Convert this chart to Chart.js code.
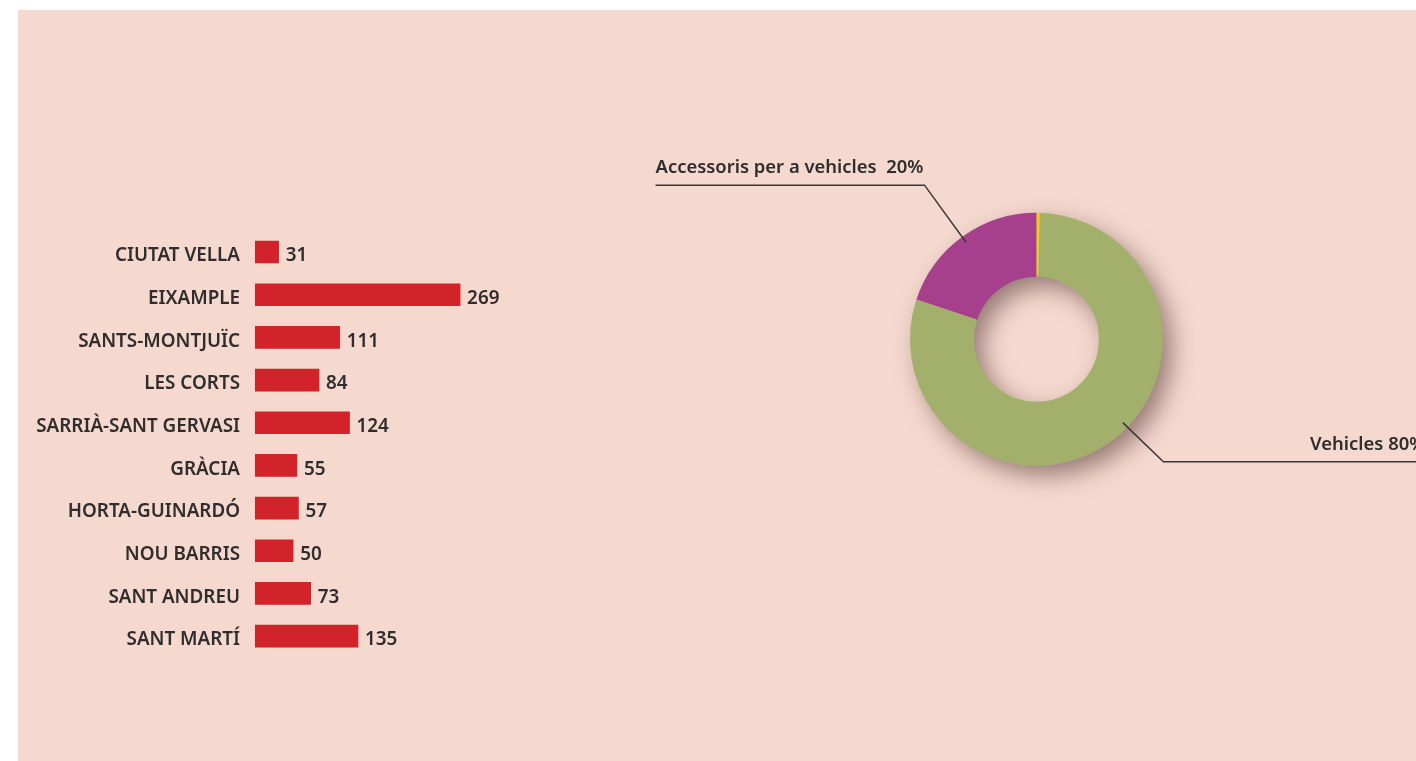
<!DOCTYPE html>
<html>
<head>
<meta charset="utf-8">
<script src="https://cdn.jsdelivr.net/npm/chart.js@4.4.1/dist/chart.umd.min.js"></script>
<style>
  body { margin: 0; background: #fff; overflow: hidden; width: 1416px; height: 761px; }
  #panel { position: absolute; left: 18px; top: 10px; right: 0; bottom: 0; background: #f5d9ce; }
  .box { position: absolute; }
</style>
</head>
<body>
<div id="panel"></div>
<div class="box" style="left:0;top:200px;width:560px;height:460px"><canvas id="bars"></canvas></div>
<div class="box" style="left:600px;top:100px;width:900px;height:480px"><canvas id="donut"></canvas></div>
<script>
// districtes i nombre de casos
const districtes = ['CIUTAT VELLA', 'EIXAMPLE', 'SANTS-MONTJUÏC', 'LES CORTS', 'SARRIÀ-SANT GERVASI',
  'GRÀCIA', 'HORTA-GUINARDÓ', 'NOU BARRIS', 'SANT ANDREU', 'SANT MARTÍ'];
const casos = [31, 269, 111, 84, 124, 55, 57, 50, 73, 135];

// tipus d'objecte (%)
const tipus = ['Altres', 'Vehicles', 'Accessoris per a vehicles'];
const percentatges = [0.4, 80, 20];
const colorsTipus = ['#f2d000', '#a3b06c', '#a6408c'];

const fons = '#f5d9ce';
const textColor = '#2f2d2d';

// tria la font estreta que hi hagi instal·lada
const mctx = document.createElement('canvas').getContext('2d');
function mida(fam, txt, px) {
  mctx.font = `600 ${px}px ${fam}`;
  return mctx.measureText(txt).width;
}
function hiEs(f) {
  const s = 'CIUTAT VELLA Accessoris 0123';
  return mida('monospace', s, 40) !== mida(`'${f}', monospace`, s, 40);
}
const candidates = ['Noto Sans SemiCondensed', 'Noto Sans Condensed', 'Liberation Sans Narrow',
  'DejaVu Sans Condensed', 'Noto Sans'];
let font = "'DejaVu Sans Condensed', sans-serif", midaEtiq = 18;
let millor = 1e9;
candidates.filter(hiEs).forEach(f => {
  const fam = `'${f}', sans-serif`;
  const px = 21 * 125 / mida(fam, 'CIUTAT VELLA', 21);
  if (Math.abs(px - 21) < millor) { millor = Math.abs(px - 21); font = fam; midaEtiq = px; }
});
const midaCrida = 21 * 268 / mida(font, 'Accessoris per a vehicles  20%', 21);

const valorsBarra = {
  id: 'valorsBarra',
  afterDatasetsDraw(chart) {
    const ctx = chart.ctx;
    const meta = chart.getDatasetMeta(0);
    ctx.save();
    ctx.font = `600 ${midaEtiq}px ${font}`;
    ctx.fillStyle = textColor;
    ctx.textAlign = 'left';
    ctx.textBaseline = 'middle';
    meta.data.forEach((bar, i) => {
      ctx.fillText(casos[i], bar.x + 7, bar.y + 4);
    });
    ctx.restore();
  }
};

new Chart(document.getElementById('bars'), {
  type: 'bar',
  data: {
    labels: districtes,
    datasets: [{
      data: casos,
      backgroundColor: '#d2232a',
      barThickness: 22
    }]
  },
  options: {
    indexAxis: 'y',
    responsive: true,
    maintainAspectRatio: false,
    animation: false,
    layout: { padding: { left: 0, right: 0, top: 30.7, bottom: 2.6 } },
    plugins: { legend: { display: false }, tooltip: { enabled: false } },
    scales: {
      x: { display: false, min: 0, max: 400 },
      y: {
        grid: { display: false, drawTicks: false },
        border: { display: false },
        ticks: {
          color: textColor,
          padding: 15,
          labelOffset: 4,
          font: { family: font, size: midaEtiq, weight: '600' }
        },
        afterFit(scale) {
          scale.width = 255;
          scale.paddingTop = 0;
          scale.paddingBottom = 0;
        }
      }
    }
  },
  plugins: [valorsBarra]
});

// ombra de l'anell
const ombra = {
  id: 'ombra',
  beforeDatasetsDraw(chart) {
    const arc = chart.getDatasetMeta(0).data[0];
    const ctx = chart.ctx;
    ctx.save();
    ctx.shadowColor = 'rgba(70, 40, 40, 0.55)';
    ctx.shadowBlur = 24;
    ctx.shadowOffsetX = 9;
    ctx.shadowOffsetY = 10;
    ctx.beginPath();
    ctx.arc(arc.x, arc.y, arc.outerRadius - 1, 0, Math.PI * 2);
    ctx.arc(arc.x, arc.y, arc.innerRadius + 1, 0, Math.PI * 2, true);
    ctx.fillStyle = fons;
    ctx.fill();
    ctx.restore();
  }
};

// etiquetes amb línia
const crides = [
  { i: 2, angle: -36, r0: 120, r1: 190.5, dir: -1, len: 269, sep: '  ' },
  { i: 1, angle: 134, r0: 120, r1: 176.4, dir: 1, len: 262, sep: ' ' }
];

const etiquetes = {
  id: 'etiquetes',
  afterDraw(chart) {
    const arc = chart.getDatasetMeta(0).data[0];
    const ctx = chart.ctx;
    ctx.save();
    ctx.strokeStyle = '#3a3636';
    ctx.lineWidth = 1.5;
    ctx.fillStyle = textColor;
    ctx.font = `600 ${midaCrida}px ${font}`;
    ctx.textBaseline = 'alphabetic';
    crides.forEach(c => {
      const a = c.angle * Math.PI / 180;
      const x0 = arc.x + c.r0 * Math.sin(a), y0 = arc.y - c.r0 * Math.cos(a);
      const x1 = arc.x + c.r1 * Math.sin(a), y1 = arc.y - c.r1 * Math.cos(a);
      const x2 = x1 + c.dir * c.len;
      ctx.beginPath();
      ctx.moveTo(x0, y0);
      ctx.lineTo(x1, y1);
      ctx.lineTo(x2, y1);
      ctx.stroke();
      ctx.textAlign = c.dir < 0 ? 'left' : 'right';
      ctx.fillText(tipus[c.i] + c.sep + percentatges[c.i] + '%', x2, y1 - 12);
    });
    ctx.restore();
  }
};

new Chart(document.getElementById('donut'), {
  type: 'doughnut',
  data: {
    labels: tipus,
    datasets: [{
      data: percentatges,
      backgroundColor: colorsTipus,
      borderWidth: 0
    }]
  },
  options: {
    responsive: true,
    maintainAspectRatio: false,
    animation: false,
    cutout: '49.4%',
    layout: { padding: { left: 310, right: 337, top: 112.8, bottom: 114.2 } },
    plugins: { legend: { display: false }, tooltip: { enabled: false } }
  },
  plugins: [ombra, etiquetes]
});
</script>
</body>
</html>
